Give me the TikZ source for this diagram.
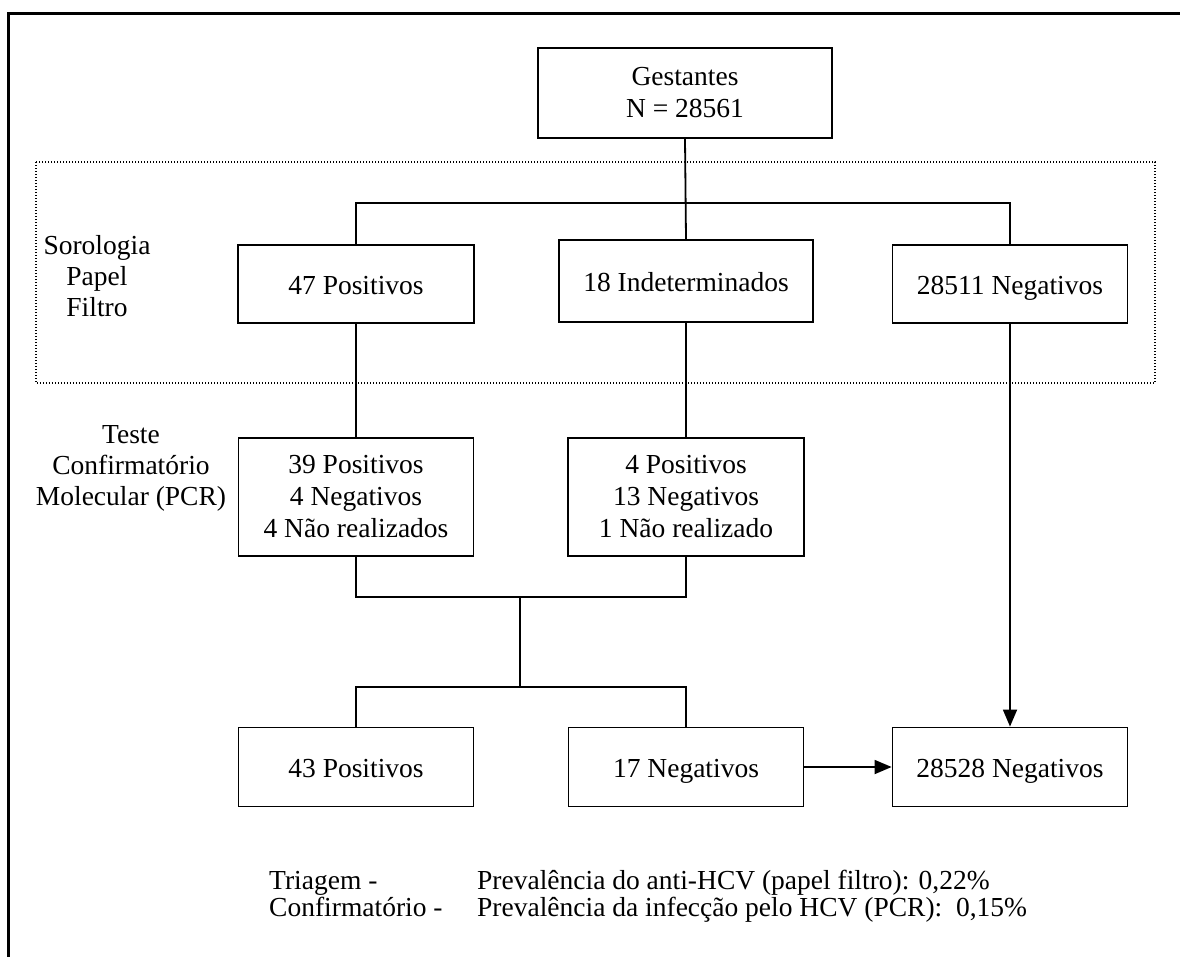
\documentclass[tikz,border=0pt]{standalone}
\usepackage{fontspec}
\setmainfont{Liberation Serif}
\usetikzlibrary{arrows.meta}
\begin{document}
\begin{tikzpicture}[x=1pt,y=-1pt,
  box/.style={draw,line width=1.8pt,align=center,font=\fontsize{27.5}{32}\selectfont,inner sep=0pt},
  sl/.style={text height=22pt,text depth=2pt},
  lbl/.style={align=center,font=\fontsize{27.5}{31}\selectfont,inner sep=0pt},
  txt/.style={anchor=base west,font=\fontsize{27.5}{31}\selectfont,inner sep=0pt},
  conn/.style={line width=1.8pt},
  arr/.style={line width=1.8pt,-{Triangle[length=17pt,width=14pt]}}]
\useasboundingbox (0,0) rectangle (1180,956);
\clip (0,0) rectangle (1180,956);
\draw[line width=2.5pt] (8.5,13.5) rectangle (1200,980);
\draw[line width=1.3pt,dash pattern=on 1.3pt off 1.7pt] (36,162) rectangle (1155,383);

\node[box,minimum width=294pt,minimum height=90pt] (g) at (685,93) {Gestantes\\N = 28561};
\node[box,sl,minimum width=236pt,minimum height=78pt] (p47) at (356,284) {47 Positivos};
\node[box,sl,minimum width=254pt,minimum height=82pt] (ind) at (686,281) {18 Indeterminados};
\node[box,sl,minimum width=235pt,minimum height=78pt] (n28511) at (1010,284) {28511 Negativos};
\node[box,minimum width=235pt,minimum height=118pt] (r39) at (356,497) {39 Positivos\\4 Negativos\\4 Não realizados};
\node[box,minimum width=236pt,minimum height=118pt] (r4) at (686,497) {4 Positivos\\13 Negativos\\1 Não realizado};
\node[box,sl,minimum width=235pt,minimum height=79pt] (p43) at (356,767) {43 Positivos};
\node[box,sl,minimum width=235pt,minimum height=79pt] (n17) at (686,767) {17 Negativos};
\node[box,sl,minimum width=235pt,minimum height=79pt] (n28528) at (1010,767) {28528 Negativos};

\node[lbl] (sor) at (97,276) {Sorologia\\Papel\\Filtro};
\node[lbl] (tes) at (131,468) {Teste\\Confirmatório\\Molecular (PCR)};

\coordinate (h1) at (685,203);
\coordinate (h2) at (520,597);
\coordinate (h3) at (520,687);
\draw[conn] (g.south) -- (ind.north);
\draw[conn] (p47.north) |- (h1) -| (n28511.north);
\draw[conn] (p47.south) -- (r39.north);
\draw[conn] (ind.south) -- (r4.north);
\draw[conn] (r39.south) |- (h2) -| (r4.south);
\draw[conn] (h2) -- (h3);
\draw[conn] (p43.north) |- (h3) -| (n17.north);
\draw[arr] (n17.east) -- (n28528.west);
\draw[arr] (n28511.south) -- (n28528.north);

\node[txt] (t1) at (269,889) {Triagem -};
\node[txt] (t2) at (477,889) {Prevalência do anti-HCV (papel filtro): 0,22\%};
\node[txt] (t3) at (269,916) {Confirmatório -};
\node[txt] (t4) at (477,916) {Prevalência da infecção pelo HCV (PCR):\ \ 0,15\%};
\end{tikzpicture}
\end{document}
